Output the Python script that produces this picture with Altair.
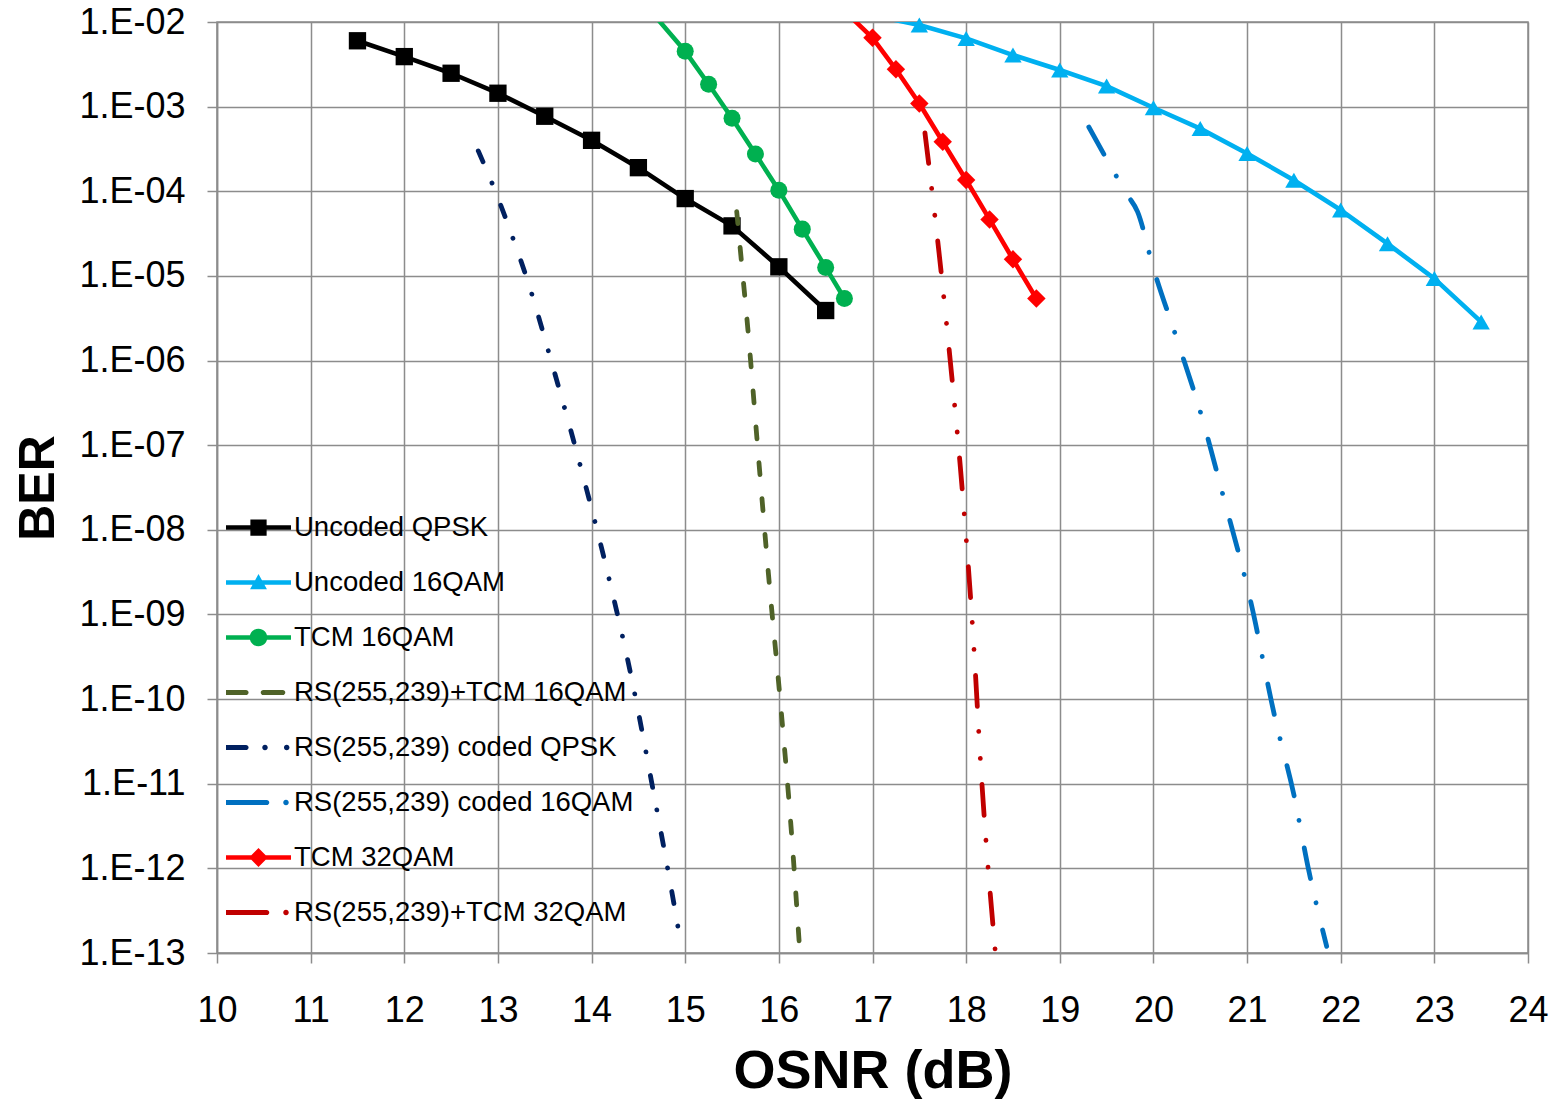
import altair as alt
import pandas as pd

# ---------------- data ----------------
series_names = [
    "Uncoded QPSK",
    "Uncoded 16QAM",
    "TCM 16QAM",
    "RS(255,239)+TCM 16QAM",
    "RS(255,239) coded QPSK",
    "RS(255,239) coded 16QAM",
    "TCM 32QAM",
    "RS(255,239)+TCM 32QAM",
]
series_colors = ["#000000", "#00B0F0", "#00B050", "#4F6228",
                 "#002060", "#0070C0", "#FF0000", "#C00000"]

qpsk_x = [11.5, 12.0, 12.5, 13.0, 13.5, 14.0, 14.5, 15.0, 15.5, 16.0, 16.5]
qpsk_ber = [6.0e-3, 3.9e-3, 2.48e-3, 1.44e-3, 7.7e-4, 4.0e-4, 1.9e-4, 8.2e-5, 3.9e-5, 1.28e-5, 3.9e-6]

qam16_x = [17.0, 17.5, 18.0, 18.5, 19.0, 19.5, 20.0, 20.5, 21.0, 21.5, 22.0, 22.5, 23.0, 23.5]
qam16_ber = [1.2e-2, 9.2e-3, 6.4e-3, 4.07e-3, 2.71e-3, 1.75e-3, 9.7e-4, 5.5e-4, 2.8e-4,
             1.35e-4, 6.0e-5, 2.4e-5, 9.3e-6, 2.86e-6]

tcm16_x = [14.5, 15.0, 15.25, 15.5, 15.75, 16.0, 16.25, 16.5, 16.7]
tcm16_ber = [2.0e-2, 4.5e-3, 1.84e-3, 7.3e-4, 2.75e-4, 1.03e-4, 3.57e-5, 1.26e-5, 5.4e-6]

tcm32_x = [16.75, 17.0, 17.25, 17.5, 17.75, 18.0, 18.25, 18.5, 18.75]
tcm32_ber = [1.2e-2, 6.5e-3, 2.76e-3, 1.09e-3, 3.85e-4, 1.36e-4, 4.65e-5, 1.57e-5, 5.4e-6]

rs_tcm16_x = [15.55, 15.60, 15.67, 15.78, 15.89, 16.01, 16.13, 16.22]
rs_tcm16_ber = [5.75e-5, 1.5e-5, 2.3e-6, 7.8e-8, 2.9e-9, 1.1e-10, 3.1e-12, 1.2e-13]

rs_qpsk_x = [12.79, 12.95, 13.17, 13.36, 13.53, 13.86, 14.16, 14.43, 14.66, 14.88, 14.95]
rs_qpsk_ber = [3.0e-4, 1.15e-4, 2.6e-5, 6.2e-6, 1.4e-6, 6.9e-8, 3.5e-9, 1.7e-10, 8.1e-12, 3.8e-13, 1.35e-13]

rs_qam16_x = [19.31, 19.50, 19.72, 19.83, 20.00, 20.27, 20.52, 20.73, 21.04, 21.30, 21.50, 21.66, 21.85]
rs_qam16_ber = [5.75e-4, 2.4e-4, 9.1e-5, 5.75e-5, 1.23e-5, 1.55e-6, 2.1e-7, 2.9e-8, 1.4e-9,
                5.9e-11, 7.4e-12, 9.3e-13, 1.2e-13]

rs_tcm32_x = [17.56, 17.63, 17.71, 17.83, 17.94, 18.09, 18.15, 18.31]
rs_tcm32_ber = [4.9e-4, 1.12e-4, 1.9e-5, 1.0e-6, 5.2e-8, 3.0e-10, 2.1e-11, 1.07e-13]

x_ticks = list(range(10, 25))
y_ticks = [1e-2, 1e-3, 1e-4, 1e-5, 1e-6, 1e-7, 1e-8, 1e-9, 1e-10, 1e-11, 1e-12, 1e-13]

# ---------------- table ----------------
marker_data = [
    ("Uncoded QPSK", qpsk_x, qpsk_ber),
    ("Uncoded 16QAM", qam16_x, qam16_ber),
    ("TCM 16QAM", tcm16_x, tcm16_ber),
    ("TCM 32QAM", tcm32_x, tcm32_ber),
]
rs_data = [
    ("RS(255,239)+TCM 16QAM", rs_tcm16_x, rs_tcm16_ber),
    ("RS(255,239) coded QPSK", rs_qpsk_x, rs_qpsk_ber),
    ("RS(255,239) coded 16QAM", rs_qam16_x, rs_qam16_ber),
    ("RS(255,239)+TCM 32QAM", rs_tcm32_x, rs_tcm32_ber),
]
rows = []
for name, xs, ys in marker_data:
    for a, b in zip(xs, ys):
        rows.append({"series": name, "osnr": a, "ber": b, "kind": "marker"})
for name, xs, ys in rs_data:
    for a, b in zip(xs, ys):
        rows.append({"series": name, "osnr": a, "ber": b, "kind": "rs"})
df = pd.DataFrame(rows)

# ---------------- styles ----------------
GRID = "#8c8c8c"
FONT = "Liberation Sans"

color_scale = alt.Scale(domain=series_names, range=series_colors)

rs_names = [r[0] for r in rs_data]
rs_dashes = [[12, 24], [12, 23, 0.01, 24], [31, 25, 0.01, 28], [31, 25, 0.01, 27, 0.01, 26]]
dash_scale = alt.Scale(domain=rs_names, range=rs_dashes)


def rrect(x1, x2, h=0.08):
    return (f"M{x1},{-h}H{x2}A{h},{h} 0 0,1 {x2},{h}H{x1}A{h},{h} 0 0,1 {x1},{-h}Z")


def dot(cx, r=0.085):
    return f"M{cx - r},0A{r},{r} 0 1,1 {cx + r},0A{r},{r} 0 1,1 {cx - r},0Z"


LINE = "M-1,-0.068H1V0.068H-1Z"
legend_paths = [
    LINE + "M-0.25,-0.25H0.25V0.25H-0.25Z",
    LINE + "M-0.26,0.21L0,-0.26L0.26,0.21Z",
    LINE + "M-0.27,0A0.27,0.27 0 1,1 0.27,0A0.27,0.27 0 1,1 -0.27,0Z",
    rrect(-0.978, -0.385) + rrect(0.148, 0.745),
    rrect(-0.978, -0.385) + dot(0.2) + dot(0.868),
    rrect(-0.978, 0.252) + dot(0.846),
    LINE + "M0,-0.29L0.29,0L0,0.29L-0.29,0Z",
    rrect(-0.978, 0.252) + dot(0.846),
]
shape_scale = alt.Scale(domain=series_names, range=legend_paths)

x_enc = alt.X("osnr:Q", scale=alt.Scale(domain=[10, 24], nice=False, zero=False),
              axis=alt.Axis(values=x_ticks, title="OSNR (dB)", titleX=655.5, titleY=118,
                            titleAlign="center", titleBaseline="middle", labelFlush=False,
                            titleFontSize=54, labelPadding=30))
y_enc = alt.Y("ber:Q", scale=alt.Scale(type="log", domain=[1e-13, 1e-2], nice=False),
              axis=alt.Axis(values=y_ticks, title="BER", titleX=-179, titleY=465.5,
                            titleAngle=270, titleAlign="center", titleBaseline="middle",
                            titleFontSize=50, labelPadding=22, labelFlush=False,
                            labelExpr="'1.E-' + (abs(round(log(datum.value)/LN10)) < 10 ? '0' : '') + abs(round(log(datum.value)/LN10))"))

base = alt.Chart(df)
color_enc = alt.Color("series:N", scale=color_scale)

leg = alt.Legend(
    title=None, orient="none", legendX=9, legendY=478, symbolSize=4225,
    symbolStrokeWidth=0, symbolOpacity=1, labelFont=FONT, labelFontSize=27.5,
    labelColor="#000000", labelOffset=3, clipHeight=55, rowPadding=0,
    labelLimit=600,
)
legend_layer = base.transform_filter(alt.datum.osnr < 0).mark_point(
    filled=True, opacity=1, size=4225
).encode(
    x=x_enc, y=y_enc,
    color=alt.Color("series:N", scale=color_scale, legend=leg),
    shape=alt.Shape("series:N", scale=shape_scale, legend=leg),
)

marker_lines = base.transform_filter(alt.datum.kind == "marker").mark_line(
    strokeWidth=4.6, clip=True, strokeJoin="round"
).encode(x=x_enc, y=y_enc, color=color_enc, detail="series:N")

marker_specs = [
    ("Uncoded QPSK", "square", 300),
    ("Uncoded 16QAM", "triangle-up", 300),
    ("TCM 16QAM", "circle", 290),
    ("TCM 32QAM", "diamond", 340),
]
point_layers = []
for name, shp, sz in marker_specs:
    point_layers.append(
        base.transform_filter((alt.datum.series == name) & (alt.datum.ber <= 0.0101))
        .mark_point(shape=shp, filled=True, size=sz, opacity=1, strokeWidth=0)
        .encode(x=x_enc, y=y_enc, color=color_enc)
    )

rs_lines = base.transform_filter(alt.datum.kind == "rs").mark_line(
    strokeWidth=4.8, strokeCap="round", interpolate="monotone", clip=True
).encode(
    x=x_enc, y=y_enc, color=color_enc,
    strokeDash=alt.StrokeDash("series:N", scale=dash_scale, legend=None),
)

chart = alt.layer(legend_layer, marker_lines, *point_layers, rs_lines).properties(
    width=1311, height=931,
    autosize=alt.AutoSizeParams(type="none"),
    padding={"left": 209, "top": 14, "right": 27, "bottom": 150},
).configure_axis(
    grid=True, gridColor=GRID, gridWidth=1.5, domainColor=GRID, domainWidth=1.5,
    tickColor=GRID, tickWidth=1.5, tickSize=10,
    labelFont=FONT, labelFontSize=36, labelColor="#000000",
    titleFont=FONT, titleFontWeight="bold", titleColor="#000000",
).configure_view(stroke=GRID, strokeWidth=1.5)

chart.save("out.html", embed_options={"renderer": "svg", "actions": False})
